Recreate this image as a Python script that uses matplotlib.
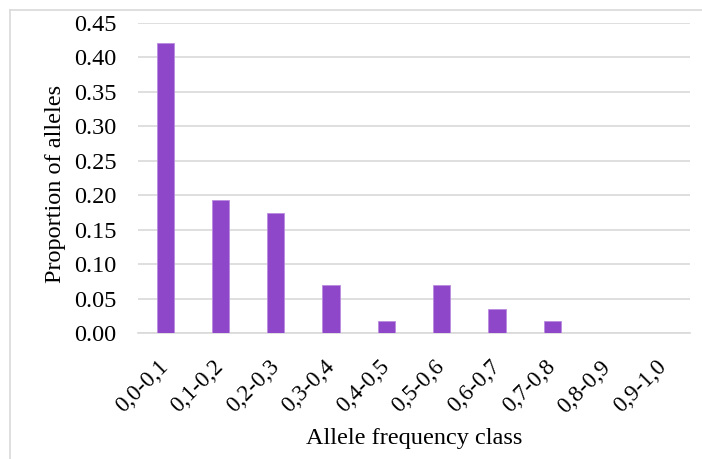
import matplotlib
matplotlib.use("Agg")
import matplotlib.pyplot as plt
from matplotlib.lines import Line2D

classes = ["0,0-0,1", "0,1-0,2", "0,2-0,3", "0,3-0,4", "0,4-0,5",
           "0,5-0,6", "0,6-0,7", "0,7-0,8", "0,8-0,9", "0,9-1,0"]
proportions = [0.421, 0.193, 0.175, 0.070, 0.0175, 0.070, 0.035, 0.0175, 0.0, 0.0]
yticks = [0.00, 0.05, 0.10, 0.15, 0.20, 0.25, 0.30, 0.35, 0.40, 0.45]

plt.rcParams['font.family'] = ['Liberation Serif', 'DejaVu Serif']

fig = plt.figure(figsize=(7.02, 4.59), dpi=100)
ax = fig.add_axes([0.1959, 0.2738, 0.7877, 0.6761])

x = range(len(classes))
ax.bar(x, proportions, width=0.31, color="#8E47C8", edgecolor="#B98BE0", linewidth=0.6, zorder=3)

ax.set_xlim(-0.5, len(classes) - 0.5)
ax.set_ylim(0, 0.45)
ax.set_yticks(yticks)
ax.set_yticklabels([f"{v:.2f}" for v in yticks], fontsize=17.5)
ax.set_xticks(list(x))
ax.set_xticklabels(classes, fontsize=16.5, rotation=45, ha="right", va="center",
                   rotation_mode="anchor")
ax.tick_params(axis="both", length=0)
ax.tick_params(axis="x", pad=22)
ax.tick_params(axis="y", pad=15)

ax.grid(axis="y", color="#D9D9D9", linewidth=1.2, zorder=0)
for s in ["top", "right", "left"]:
    ax.spines[s].set_visible(False)
ax.spines["bottom"].set_color("#D9D9D9")
ax.spines["bottom"].set_linewidth(1.2)

fig.text(0.079, 0.60, "Proportion of alleles", rotation=90, fontsize=17.5,
         ha="center", va="center")
fig.text(0.59, 0.044, "Allele frequency class", fontsize=17.5, ha="center", va="center")

# outer chart border
fig.add_artist(Line2D([10/702, 1.0], [1 - 10/459, 1 - 10/459], color="#D9D9D9", linewidth=1.2))
fig.add_artist(Line2D([10/702, 10/702], [0.0, 1 - 10/459], color="#D9D9D9", linewidth=1.2))

plt.savefig("out.png", dpi=100)
plt.close()
